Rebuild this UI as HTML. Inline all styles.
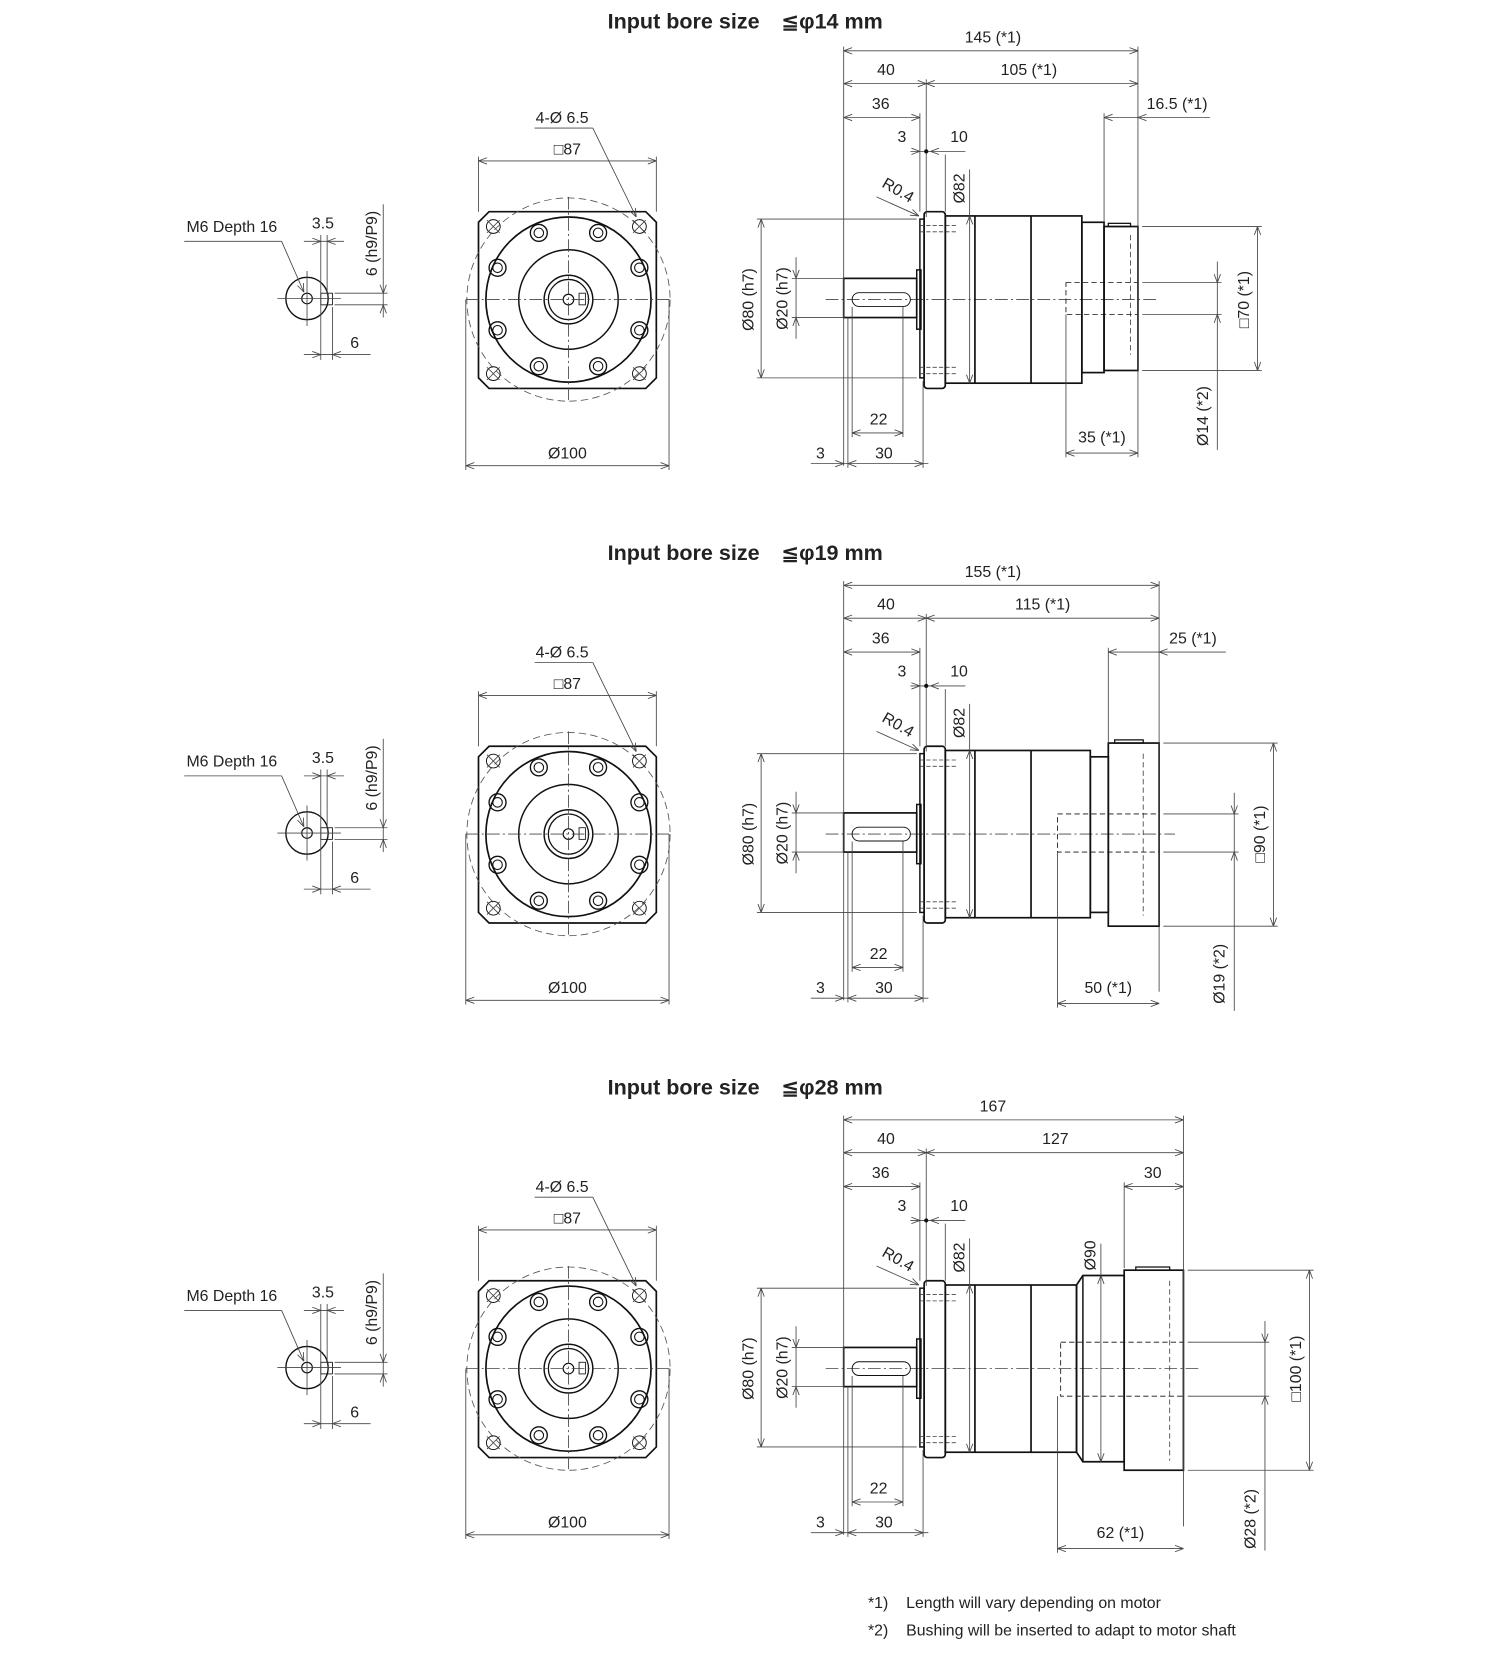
<!DOCTYPE html>
<html><head><meta charset="utf-8">
<style>
html,body{margin:0;padding:0;background:#fff;}
svg{display:block;}
text{font-family:"Liberation Sans","DejaVu Sans","Noto Sans CJK JP",sans-serif;fill:#222;}
</style></head>
<body>
<svg id="s" xmlns="http://www.w3.org/2000/svg" width="1500" height="1665" viewBox="0 0 1417 1573"></svg>
<script>
var out=[];
function L(x1,y1,x2,y2,w,d){out.push('<line x1="'+x1+'" y1="'+y1+'" x2="'+x2+'" y2="'+y2+'" stroke="'+(w>1?'#111':'#444')+'" stroke-width="'+(w||0.8)+'"'+(d?' stroke-dasharray="'+d+'"':'')+'/>');}
function R(x,y,w,h,sw,rx,d){out.push('<rect x="'+x+'" y="'+y+'" width="'+w+'" height="'+h+'" rx="'+(rx||0)+'" fill="none" stroke="#111" stroke-width="'+(sw||1.6)+'"'+(d?' stroke-dasharray="'+d+'"':'')+'/>');}
function C(x,y,r,sw,d){out.push('<circle cx="'+x+'" cy="'+y+'" r="'+r+'" fill="none" stroke="'+(d?'#555':'#111')+'" stroke-width="'+(sw||1.6)+'"'+(d?' stroke-dasharray="'+d+'"':'')+'/>');}
function T(x,y,s,rot,sz,bold){var a='<text x="'+x+'" y="'+y+'" font-size="'+(sz||15)+'" text-anchor="middle"'+(bold?' font-weight="bold"':'');
 if(rot)a+=' transform="rotate('+rot+' '+x+' '+y+')"';out.push(a+'>'+s+'</text>');}
function AH(x,y,dx,dy){var px=-dy,py=dx;L(x,y,x-8*dx+3*px,y-8*dy+3*py);L(x,y,x-8*dx-3*px,y-8*dy-3*py);}
function DH(y,x1,x2){L(x1,y,x2,y);AH(x1,y,-1,0);AH(x2,y,1,0);}
function DV(x,y1,y2){L(x,y1,x,y2);AH(x,y1,0,-1);AH(x,y2,0,1);}
var CL="12 3 2 3";
function sec(o,p){
 var Y=function(v){return v+o;};
 out.push('<text x="574" y="'+Y(p.ty)+'" font-size="20" font-weight="bold" textLength="260" lengthAdjust="spacingAndGlyphs">Input bore size　≦φ'+p.bore+' mm</text>');
 var cx=290,cy=Y(282);
 C(cx,cy,20,1.3);C(cx,cy,5,1.1);R(303,Y(277),11,11,0.8);
 L(262,cy,322,cy,0.8);L(cx,Y(256),cx,Y(308),0.8);
 T(219,Y(219),'M6 Depth 16');L(174,Y(228),266,Y(228));L(266,Y(228),287,Y(276));AH(287,Y(276),0.4,0.92);
 L(303,Y(222),303,Y(340));L(309,Y(222),309,Y(278));L(314,Y(290),314,Y(340));
 T(305,Y(216),'3.5');L(287,Y(228),325,Y(228));AH(303,Y(228),1,0);AH(309,Y(228),-1,0);
 L(316,Y(277),366,Y(277));L(316,Y(288),366,Y(288));
 L(362,Y(193),362,Y(300));AH(362,Y(277),0,1);AH(362,Y(288),0,-1);
 T(356,Y(230),'6 (h9/P9)',-90);
 T(335,Y(329),'6');L(287,Y(335),350,Y(335));AH(303,Y(335),1,0);AH(314,Y(335),-1,0);
 var fx=537,fy=Y(283);
 out.push('<polygon points="462,'+Y(200)+' 610,'+Y(200)+' 620,'+Y(210)+' 620,'+Y(357)+' 610,'+Y(367)+' 462,'+Y(367)+' 452,'+Y(357)+' 452,'+Y(210)+'" fill="none" stroke="#111" stroke-width="1.6"/>');
 C(fx,fy,96,0.8,"7 4");
 C(fx,fy,78,1.6);C(fx,fy,47,1.4);C(fx,fy,23,1.4);C(fx,fy,19,1.2);C(fx,fy,5,1.1);R(547,Y(277),6,11,0.8);
 L(440,fy,633,fy,0.8,CL);L(fx,Y(186),fx,Y(381),0.8,CL);
 [[509,220],[565,220],[470,253],[604,253],[470,312],[604,312],[509,346],[565,346]].forEach(function(h){C(h[0],Y(h[1]),8,1.3);C(h[0],Y(h[1]),4.5,1);});
 [[466,214],[604,214],[466,353],[604,353]].forEach(function(h){var x=h[0],y=Y(h[1]);C(x,y,6.5,0.9);L(x-6,y-6,x+6,y+6);L(x-6,y+6,x+6,y-6);});
 T(536,Y(146),'□87');L(452,Y(148),452,Y(200));L(620,Y(148),620,Y(200));DH(Y(152),452,620);
 T(531,Y(116),'4-Ø 6.5');L(505,Y(121),560,Y(121));L(560,Y(121),601,Y(205));AH(601,Y(205),0.44,0.9);
 L(440,Y(283),440,Y(444));L(632,Y(283),632,Y(444));DH(Y(440),440,632);T(536,Y(433),'Ø100');
 L(780,fy,p.cl,fy,0.8,CL);
 R(797,Y(263),69,37,1.6);R(805,Y(276.5),55,13,0.9,6.5);
 R(866,Y(255),4,56,1.4);R(869,Y(207),4,150,1.4);
 R(873,Y(200),20,167,1.6,3);
 [213,219,347,353].forEach(function(v){L(869,Y(v),905,Y(v),0.8,"4 2");});
 R(893,Y(204),p.be-893,158,1.6);L(921,Y(204),921,Y(362),1.6);L(974,Y(204),974,Y(362),1.6);
 p.draw(Y);
 L(797,Y(44),797,Y(440));L(p.R,Y(44),p.R,Y(432));
 T(938,Y(40),p.tot);DH(Y(48),797,p.R);
 L(875,Y(75),875,Y(205));T(837,Y(71),'40');T(p.midx,Y(71),p.mid);DH(Y(79),797,875);DH(Y(79),875,p.R);
 L(869,Y(107),869,Y(200));T(832,Y(103),'36');DH(Y(111),797,869);
 T(852,Y(134),'3');T(906,Y(134),'10');L(860,Y(143),912,Y(143));AH(869,Y(143),1,0);AH(879,Y(143),-1,0);
 out.push('<circle cx="875" cy="'+Y(143)+'" r="2" fill="#111"/>');
 L(893,Y(146),893,Y(200));
 L(916,Y(160),916,Y(362));AH(916,Y(204),0,-1);AH(916,Y(362),0,1);T(911,Y(178),'Ø82',-90);
 T(846,Y(184),'R0.4',30);L(828,Y(186),868,Y(204));AH(868,Y(204),0.9,0.42);
 L(715,Y(207),866,Y(207));L(715,Y(357),866,Y(357));DV(719,Y(207),Y(357));T(712,Y(283),'Ø80 (h7)',-90);
 L(748,Y(263),797,Y(263));L(748,Y(300),797,Y(300));L(752,Y(243),752,Y(320));AH(752,Y(263),0,1);AH(752,Y(300),0,-1);T(744,Y(282),'Ø20 (h7)',-90);
 L(805,Y(290),805,Y(413));L(853,Y(290),853,Y(413));DH(Y(409),805,853);T(830,Y(401),'22');
 L(801,Y(300),801,Y(442));L(872,Y(360),872,Y(442));L(766,Y(438),877,Y(438));AH(797,Y(438),1,0);AH(801,Y(438),-1,0);AH(872,Y(438),1,0);
 T(775,Y(433),'3');T(835,Y(433),'30');
 var q=p.q;
 L(q.trL,Y(107),q.trL,Y(q.trB));T(q.trx,Y(103),q.tr);L(q.trL,Y(111),q.trE,Y(111));AH(q.trL,Y(111),-1,0);AH(p.R,Y(111),q.in?1:-1,0);
 L(p.R+4,Y(q.aT),q.sx+4,Y(q.aT));L(p.R+4,Y(q.aB),q.sx+4,Y(q.aB));DV(q.sx,Y(q.aT),Y(q.aB));T(q.sx-8,Y(283),q.st,-90);
 L(p.R+4,Y(q.bT),q.bx+4,Y(q.bT));L(p.R+4,Y(q.bB),q.bx+4,Y(q.bB));L(q.bx,Y(q.bT-20),q.bx,Y(q.bEnd));AH(q.bx,Y(q.bT),0,1);AH(q.bx,Y(q.bB),0,-1);T(q.bx-9,Y(q.btc),q.bt,-90);
 L(q.bL,Y(q.bB),q.bL,Y(q.lY+4));DH(Y(q.lY),q.bL,p.R);T((q.bL+p.R)/2,Y(q.lY-10),q.lt);
}
sec(0,{ty:27,bore:14,cl:1095,be:1022,R:1075,tot:'145 (*1)',mid:'105 (*1)',midx:972,
 draw:function(Y){R(1022,Y(210),21,142,1.6);R(1043,Y(214),32,136,1.6);R(1047,Y(211),21,3,1.2);
  L(1068,Y(222),1068,Y(335),0.8,"5 3");R(1007,Y(267),68,30,0.8,0,"5 3");},
 q:{trL:1043,trB:210,trx:1112,tr:'16.5 (*1)',trE:1143,in:0,aT:214,aB:350,sx:1188,st:'□70 (*1)',
  bT:267,bB:297,bx:1150,bEnd:425,btc:393,bt:'Ø14 (*2)',bL:1007,lY:428,lt:'35 (*1)'}});
sec(505,{ty:24,bore:19,cl:1110,be:1030,R:1095,tot:'155 (*1)',mid:'115 (*1)',midx:985,
 draw:function(Y){R(1030,Y(210),17,147,1.6);R(1047,Y(197),48,173,1.6);R(1053,Y(194),27,3,1.2);
  L(1080,Y(207),1080,Y(360),0.8,"5 3");R(999,Y(264),96,36,0.8,0,"5 3");},
 q:{trL:1047,trB:197,trx:1127,tr:'25 (*1)',trE:1158,in:0,aT:197,aB:370,sx:1203,st:'□90 (*1)',
  bT:264,bB:300,bx:1166,bEnd:450,btc:415,bt:'Ø19 (*2)',bL:999,lY:443,lt:'50 (*1)'}});
sec(1010,{ty:24,bore:28,cl:1135,be:1017,R:1118,tot:'167',mid:'127',midx:997,
 draw:function(Y){out.push('<polygon points="1017,'+Y(204)+' 1023,'+Y(195)+' 1062,'+Y(195)+' 1062,'+Y(371)+' 1023,'+Y(371)+' 1017,'+Y(362)+'" fill="none" stroke="#111" stroke-width="1.6"/>');
  L(1023,Y(195),1023,Y(371),1.4);
  R(1062,Y(190),56,189,1.6);R(1073,Y(187),32,3,1.2);
  L(1105,Y(200),1105,Y(370),0.8,"5 3");R(1002,Y(258),116,51,0.8,0,"5 3");
  L(1040,Y(165),1040,Y(371));AH(1040,Y(195),0,-1);AH(1040,Y(371),0,1);T(1035,Y(176),'Ø90',-90);},
 q:{trL:1062,trB:188,trx:1089,tr:'30',trE:1118,in:1,aT:190,aB:379,sx:1237,st:'□100 (*1)',
  bT:258,bB:309,bx:1195,bEnd:455,btc:425,bt:'Ø28 (*2)',bL:999,lY:453,lt:'62 (*1)'}});
out.push('<text x="820" y="1519" font-size="15">*1)</text><text x="856" y="1519" font-size="15">Length will vary depending on motor</text>');
out.push('<text x="820" y="1545" font-size="15">*2)</text><text x="856" y="1545" font-size="15">Bushing will be inserted to adapt to motor shaft</text>');
document.getElementById('s').innerHTML=out.join('');
</script>
</body></html>
